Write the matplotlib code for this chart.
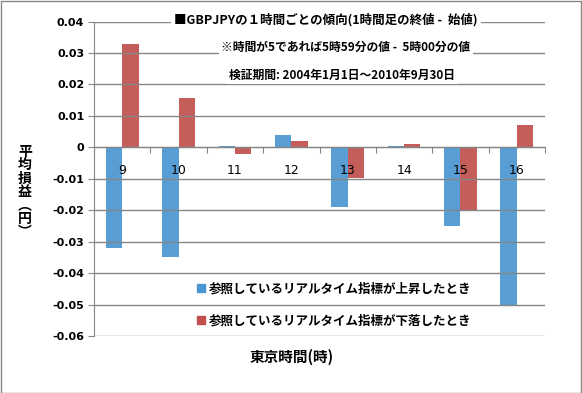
import matplotlib
matplotlib.use("Agg")
import matplotlib.pyplot as plt
from matplotlib.lines import Line2D
from matplotlib.patches import Rectangle
import numpy as np

plt.rcParams['font.family'] = ['Noto Sans CJK JP', 'DejaVu Sans']

# data
hours = ['9', '10', '11', '12', '13', '14', '15', '16']
up_vals = [-0.032, -0.035, 0.0003, 0.0038, -0.019, 0.0003, -0.025, -0.050]
down_vals = [0.033, 0.0157, -0.002, 0.002, -0.0098, 0.001, -0.020, 0.007]
yticks = [0.04, 0.03, 0.02, 0.01, 0, -0.01, -0.02, -0.03, -0.04, -0.05, -0.06]
ytick_labels = ['0.04', '0.03', '0.02', '0.01', '0', '-0.01', '-0.02', '-0.03', '-0.04', '-0.05', '-0.06']

up_label = '参照しているリアルタイム指標が上昇したとき'
down_label = '参照しているリアルタイム指標が下落したとき'

blue = '#4A96D2'
red = '#C0504D'
grid_c = '#868686'

fig = plt.figure(figsize=(5.82, 3.93), dpi=100)
ax = fig.add_axes([94 / 582, 1 - 336 / 393, 451 / 582, 314.5 / 393])

x = np.arange(len(hours))
w = 0.29
ax.bar(x - w / 2, up_vals, w, color=blue, alpha=0.92, zorder=2)
ax.bar(x + w / 2, down_vals, w, color=red, alpha=0.92, zorder=2)

ax.set_xlim(-0.5, len(hours) - 0.5)
ax.set_ylim(-0.06, 0.04)
ax.set_yticks(yticks)
ax.set_yticklabels(ytick_labels, fontsize=8, fontweight='bold', family='DejaVu Sans')
for y in yticks:
    ax.axhline(y, color=grid_c, lw=1, zorder=3)

# category axis sits at zero
ax.spines['bottom'].set_position(('data', 0))
ax.spines['bottom'].set_color(grid_c)
ax.spines['left'].set_color(grid_c)
ax.spines['top'].set_visible(False)
ax.spines['right'].set_visible(False)
ax.set_xticks(np.arange(len(hours) + 1) - 0.5)
ax.set_xticklabels([])
ax.tick_params(axis='x', length=4, color=grid_c, direction='out')
ax.tick_params(axis='y', length=4, color=grid_c, pad=3)
for i, h in enumerate(hours):
    ax.text(i, -0.0052, h, ha='center', va='top', fontsize=9, family='DejaVu Sans', zorder=4)

# titles
fig.text(326 / 582, 1 - 20 / 393, '■GBPJPYの１時間ごとの傾向(1時間足の終値 -  始値)',
         ha='center', va='center', fontsize=9, fontweight='bold',
         bbox=dict(facecolor='white', edgecolor='none', pad=2))
fig.text(346 / 582, 1 - 47 / 393, '※時間が5であれば5時59分の値 -  5時00分の値',
         ha='center', va='center', fontsize=8.5, fontweight='bold',
         bbox=dict(facecolor='white', edgecolor='none', pad=2))
fig.text(342 / 582, 1 - 75 / 393, '検証期間: 2004年1月1日～2010年9月30日',
         ha='center', va='center', fontsize=8.5, fontweight='bold',
         bbox=dict(facecolor='white', edgecolor='none', pad=2))

# axis labels
fig.text(25 / 582, 1 - 192 / 393, '平\n均\n損\n益\n︵\n円\n︶', ha='center', va='center',
         fontsize=10, fontweight='bold', linespacing=0.95)
fig.text(292 / 582, 1 - 357 / 393, '東京時間(時)', ha='center', va='center',
         fontsize=10.5, fontweight='bold')

# legend
handles = [Line2D([], [], marker='s', ls='none', color=blue, markersize=6),
           Line2D([], [], marker='s', ls='none', color=red, markersize=6)]
leg = fig.legend(handles, [up_label, down_label], loc='upper left',
                 bbox_to_anchor=(188 / 582, 1 - 276 / 393), frameon=False,
                 prop={'size': 9, 'weight': 'bold'}, handletextpad=0.2,
                 handlelength=1.0, labelspacing=1.55, borderpad=0)

fig.patches.append(Rectangle((0.001, 0.001), 0.997, 0.997, transform=fig.transFigure,
                             fill=False, edgecolor=grid_c, lw=1))

fig.savefig('out.png', dpi=100)
